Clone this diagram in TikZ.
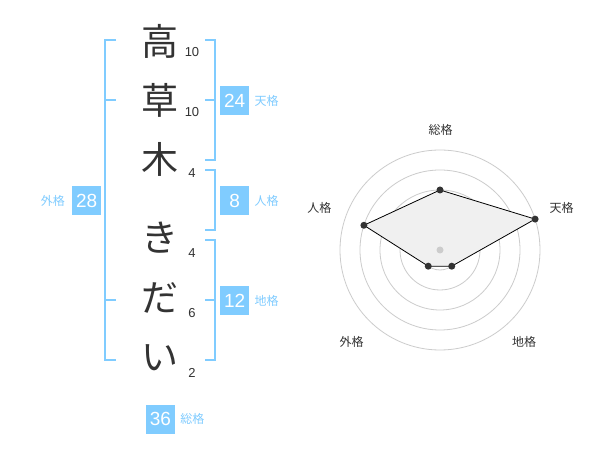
\documentclass[tikz,border=0pt]{standalone}
\usepackage{fontspec}
\setmainfont{Liberation Sans}
\newfontfamily\jp{Noto Sans CJK JP}
\usetikzlibrary{positioning}
\definecolor{kblue}{RGB}{128,204,255}
\definecolor{dgray}{RGB}{51,51,51}
\definecolor{ring}{RGB}{204,204,204}
\definecolor{area}{RGB}{240,240,240}

\tikzset{
	kanji/.style={font=\jp\fontsize{37}{37}\selectfont, text=dgray, inner sep=0pt},
	strokes/.style={font=\fontsize{13}{13}\selectfont, text=dgray, inner sep=0pt},
	scorebox/.style={fill=kblue, text=white, minimum size=29pt, inner sep=0pt, font=\fontsize{19}{19}\selectfont},
	kaku/.style={font=\jp\fontsize{12}{12}\selectfont, text=kblue, inner sep=0pt},
	bracket/.style={draw=kblue, line width=2pt},
	axislabel/.style={font=\jp\fontsize{12}{12}\selectfont, text=dgray, inner sep=0pt}
}

\begin{document}
\begin{tikzpicture}[x=1pt, y=-1pt]
			\useasboundingbox[fill=white] (0,0) rectangle (600,470);
			% name, one character per line
			\node[kanji] (c1) at (160,41) {高};
			\node[kanji] (c2) at (160,100) {草};
			\node[kanji] (c3) at (160,159) {木};
			\node[kanji] (c4) at (160,238) {き};
			\node[kanji] (c5) at (160,298) {だ};
			\node[kanji] (c6) at (160,358) {い};
			\node[strokes] (n1) at (192,52) {10};
			\node[strokes] (n2) at (192,112) {10};
			\node[strokes] (n3) at (192,173) {4};
			\node[strokes] (n4) at (192,253) {4};
			\node[strokes] (n5) at (192,313) {6};
			\node[strokes] (n6) at (192,373) {2};
			% brackets
			\draw[bracket] (116,40) -- (105,40) -- (105,360) -- (116,360);
			\draw[bracket] (105,100) -- (116,100) (105,300) -- (116,300);
			\draw[bracket] (205,40) -- (215,40) -- (215,160) -- (205,160);
			\draw[bracket] (215,100) -- (205,100);
			\draw[bracket] (205,170) -- (215,170) -- (215,230) -- (205,230);
			\draw[bracket] (205,240) -- (215,240) -- (215,360) -- (205,360);
			\draw[bracket] (215,300) -- (205,300);
			% scores
			\node[scorebox] (ten) at (234.7,100.5) {24};
			\node[kaku, right=5pt of ten] (ten-l) {天格};
			\node[scorebox] (jin) at (234.7,200.5) {8};
			\node[kaku, right=5pt of jin] (jin-l) {人格};
			\node[scorebox] (chi) at (234.7,300.5) {12};
			\node[kaku, right=5pt of chi] (chi-l) {地格};
			\node[scorebox] (gai) at (86.7,200.5) {28};
			\node[kaku, left=7pt of gai] (gai-l) {外格};
			\node[scorebox] (so) at (160.5,419) {36};
			\node[kaku, right=5pt of so] (so-l) {総格};
			% radar chart
			\begin{scope}[shift={(440,250)}, yscale=-1]
				\foreach \r in {20,40,...,100}
					\draw[ring, line width=0.8pt] (0,0) circle (\r);
				\foreach \a/\v/\n in {90/3/pso, 18/5/pten, -54/1/pchi, -126/1/pgai, 162/4/pjin}
					\coordinate (\n) at (\a:\v*20);
				\filldraw[fill=area, draw=black, line width=0.8pt] (pso) -- (pten) -- (pchi) -- (pgai) -- (pjin) -- cycle;
				\foreach \n in {pso, pten, pchi, pgai, pjin}
					\fill[dgray] (\n) circle (3.5);
				\fill[ring] (0,0) circle (3.5);
				\node[axislabel] (a-so) at (0.7,120) {総格};
				\node[axislabel] (a-ten) at (121.7,42) {天格};
				\node[axislabel] (a-jin) at (-120.7,42) {人格};
				\node[axislabel] (a-gai) at (-88.3,-91.7) {外格};
				\node[axislabel] (a-chi) at (84,-91.7) {地格};
			\end{scope}
		\end{tikzpicture}
\end{document}
